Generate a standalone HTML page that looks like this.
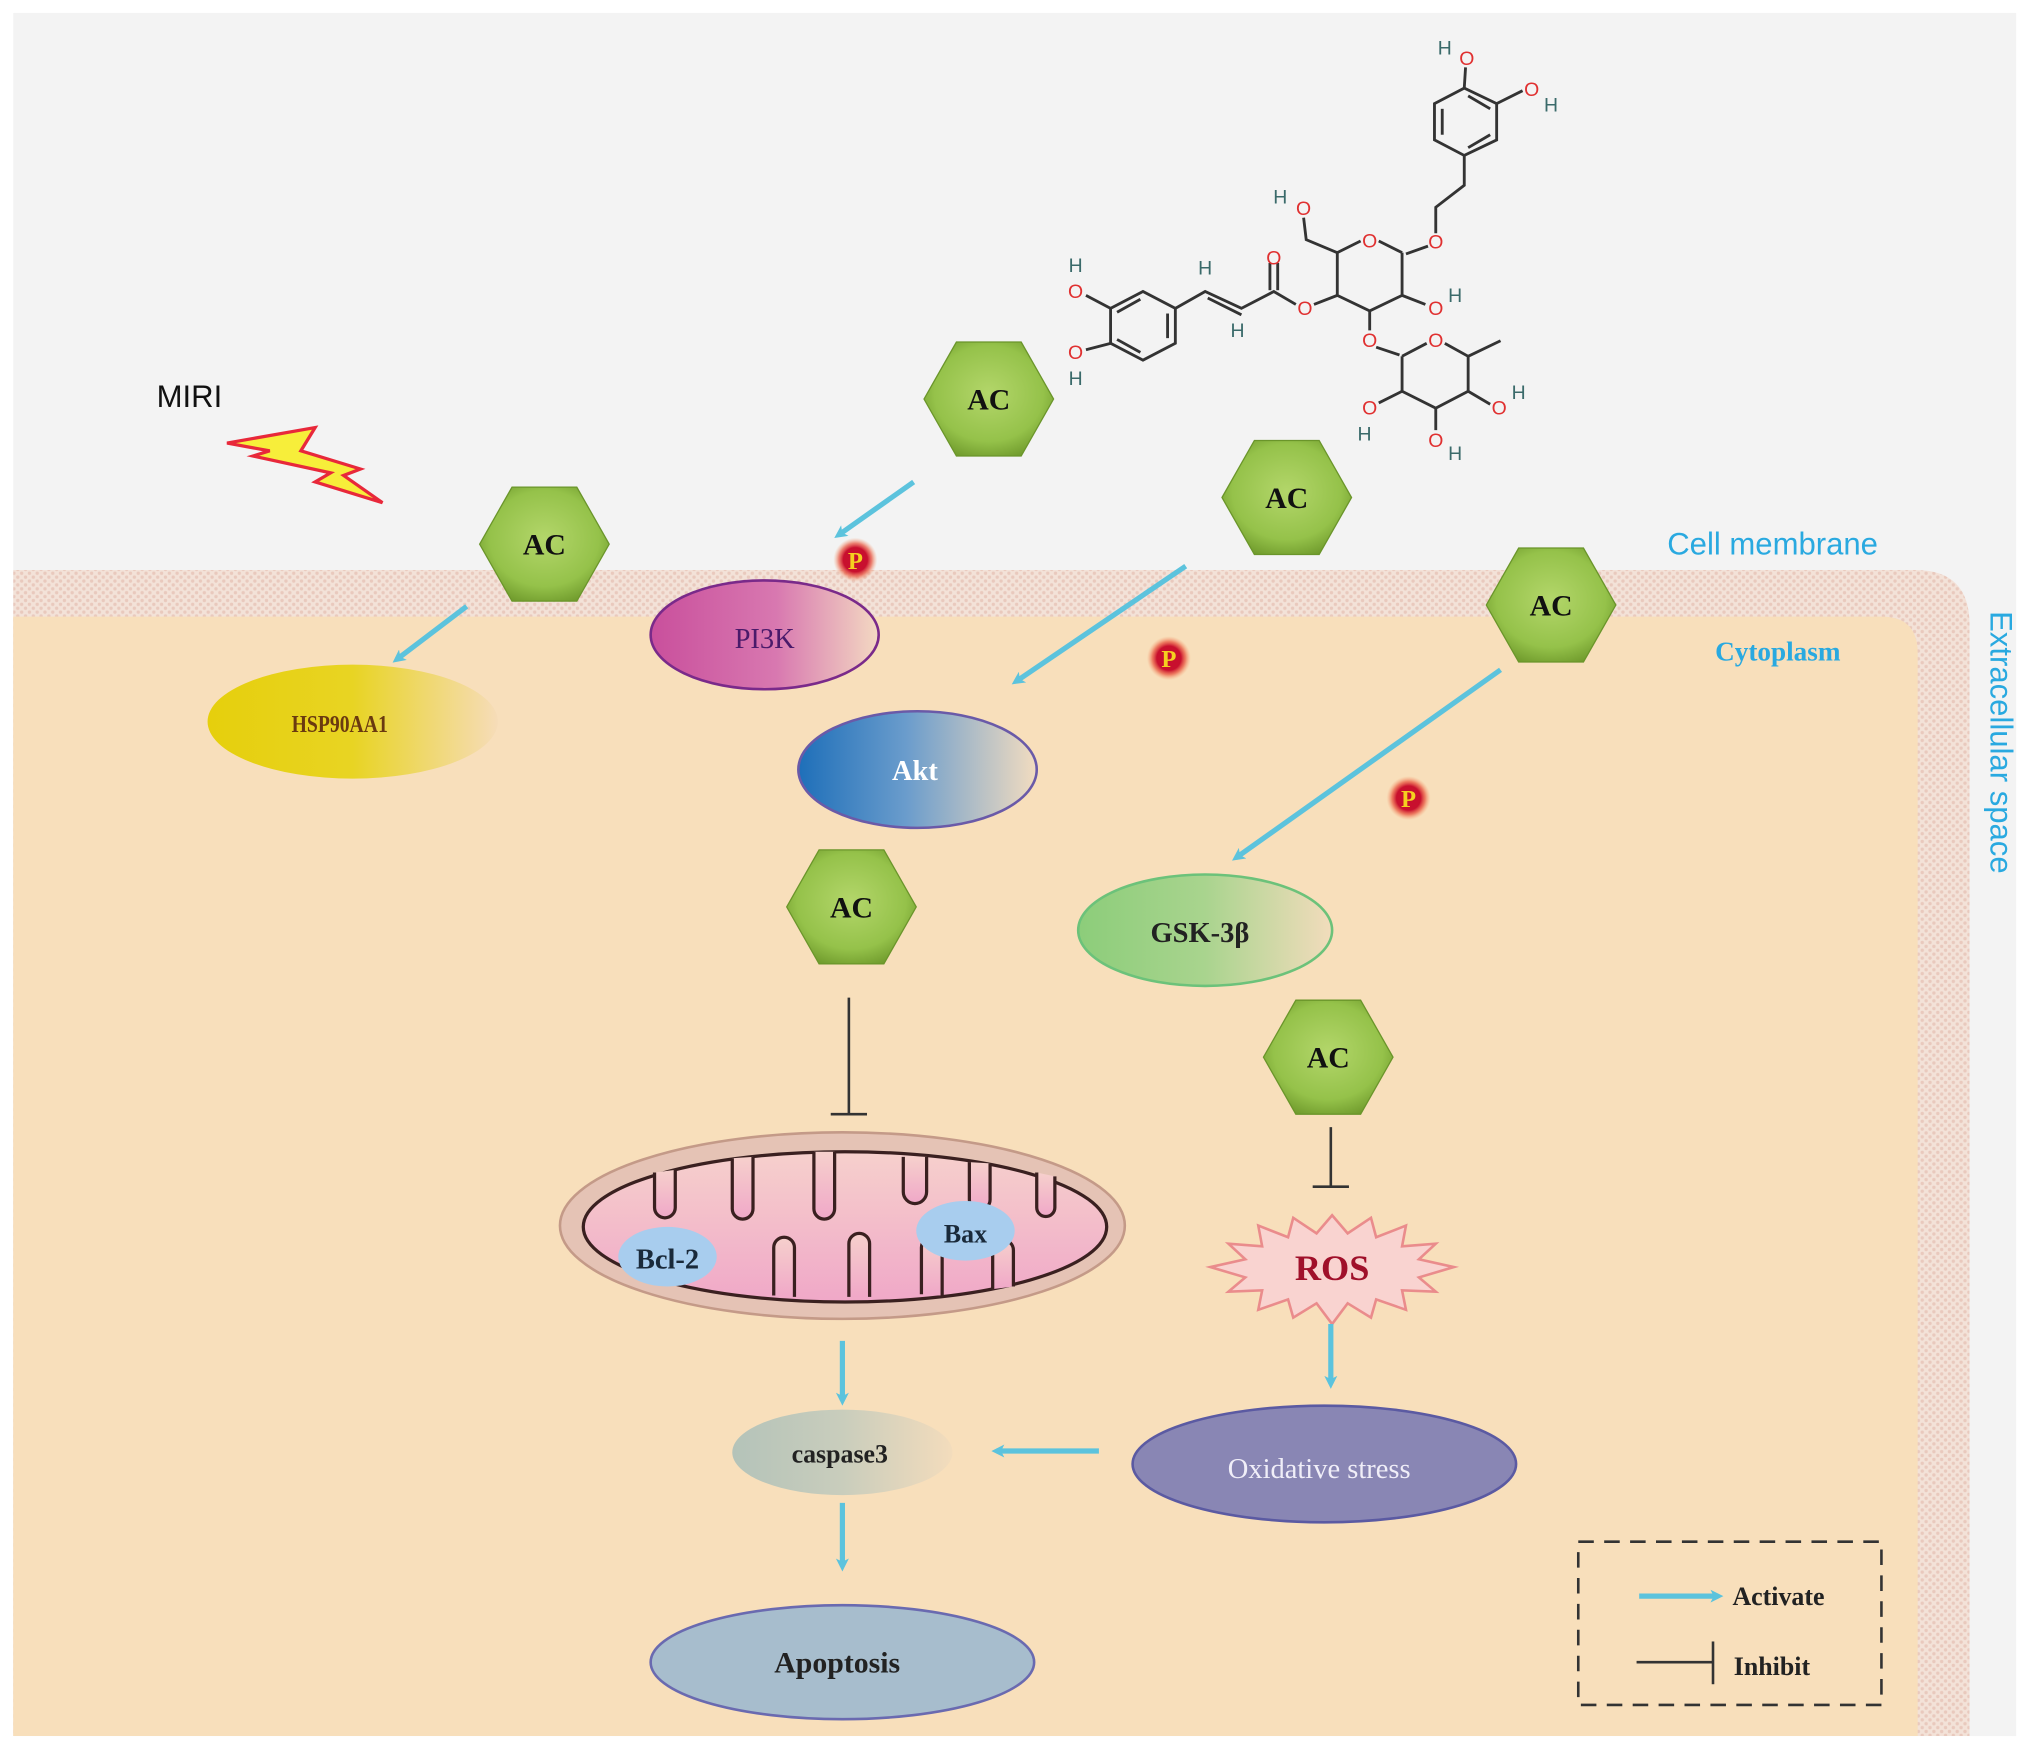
<!DOCTYPE html>
<html><head><meta charset="utf-8"><style>
html,body{margin:0;padding:0;background:#fff;}
svg{display:block;}
</style></head><body>
<svg width="2032" height="1749" viewBox="0 0 1568 1350" xmlns="http://www.w3.org/2000/svg">
<defs>
<pattern id="dots" width="6" height="6" patternUnits="userSpaceOnUse">
<rect width="6" height="6" fill="#f3e2d8"/>
<circle cx="1.5" cy="1.5" r="1.3" fill="#e9c9bd"/>
<circle cx="4.5" cy="4.5" r="1.3" fill="#e9c9bd"/>
</pattern>
<radialGradient id="hex" cx="50%" cy="45%" r="60%">
<stop offset="0" stop-color="#b3d66a"/><stop offset="0.7" stop-color="#95c24a"/><stop offset="1" stop-color="#6f9a2c"/>
</radialGradient>
<linearGradient id="gPI3K" x1="0" x2="1"><stop offset="0" stop-color="#c94f9c"/><stop offset="0.55" stop-color="#d878b0"/><stop offset="1" stop-color="#f3d9c2"/></linearGradient>
<linearGradient id="gHSP" x1="0" x2="1"><stop offset="0" stop-color="#e6cf0c"/><stop offset="0.5" stop-color="#e8d423"/><stop offset="1" stop-color="#f6dcb8"/></linearGradient>
<linearGradient id="gAkt" x1="0" x2="1"><stop offset="0" stop-color="#1e6fb9"/><stop offset="0.45" stop-color="#6a9ccc"/><stop offset="1" stop-color="#f2dcc0"/></linearGradient>
<linearGradient id="gGSK" x1="0" x2="1"><stop offset="0" stop-color="#8ccd7a"/><stop offset="0.5" stop-color="#a9d48e"/><stop offset="1" stop-color="#f2dcbc"/></linearGradient>
<linearGradient id="gCasp" x1="0" x2="1"><stop offset="0" stop-color="#b4c3b9"/><stop offset="0.5" stop-color="#c9cdbc"/><stop offset="1" stop-color="#f3dcbc"/></linearGradient>
<linearGradient id="gMito" x1="0" y1="0" x2="0" y2="1"><stop offset="0" stop-color="#f6d0cc"/><stop offset="1" stop-color="#f0a8c8"/></linearGradient>
<radialGradient id="gP" cx="50%" cy="50%" r="50%"><stop offset="0.55" stop-color="#c8102e"/><stop offset="0.75" stop-color="#e8503a" stop-opacity="0.7"/><stop offset="1" stop-color="#f6a070" stop-opacity="0"/></radialGradient>
<marker id="ar" markerWidth="10" markerHeight="10" refX="6" refY="5" orient="auto" markerUnits="userSpaceOnUse" viewBox="0 0 10 10">
<path d="M0,0 L10,5 L0,10 L2.5,5 Z" fill="#5cc3dd"/></marker>
<g id="hx"><polygon points="-50,0 -25,-44 25,-44 50,0 25,44 -25,44" fill="url(#hex)" stroke="#6a952a" stroke-width="1"/></g>
<g id="pc"><circle r="17" fill="url(#gP)"/><text y="7" text-anchor="middle" font-family="Liberation Serif, serif" font-size="19" fill="#f5d020" font-weight="bold">P</text></g>
</defs>

<rect x="10" y="10" width="1546" height="1330" fill="#f3f3f3"/>
<!-- membrane -->
<path d="M10,440 L1478,440 Q1520,440 1520,482 L1520,1340 L10,1340 Z" fill="url(#dots)"/>
<path d="M10,476 L1452,476 Q1480,476 1480,504 L1480,1340 L10,1340 Z" fill="#f8dfbb"/>

<!-- labels -->
<text x="146" y="314" font-family="Liberation Sans, sans-serif" font-size="24" text-anchor="middle" fill="#111">MIRI</text>
<polygon points="175,342 243,330 232,348 278,362 265,367 295,388 243,372 255,365 195,352 208,348" fill="#f7ee3a" stroke="#e8283a" stroke-width="2.5" stroke-linejoin="miter"/>
<text x="1368" y="428" font-family="Liberation Sans, sans-serif" font-size="24" text-anchor="middle" fill="#29a9e0">Cell membrane</text>
<text x="1372" y="510" font-family="Liberation Serif, serif" font-size="21" font-weight="bold" text-anchor="middle" fill="#29a9e0">Cytoplasm</text>
<text transform="translate(1536,573) rotate(90)" font-family="Liberation Sans, sans-serif" font-size="24" text-anchor="middle" fill="#29a9e0">Extracellular space</text>

<!-- molecule -->
<g stroke="#333" stroke-width="2.2" fill="none">
<polygon points="1107,80 1130,68 1155,80 1155,108 1130,120 1107,108"/>
<line x1="1113" y1="84" x2="1113" y2="104"/><line x1="1133" y1="74" x2="1150" y2="84"/><line x1="1133" y1="114" x2="1150" y2="104"/>
<line x1="1130" y1="68" x2="1131" y2="52"/><line x1="1155" y1="80" x2="1175" y2="70"/>
<polyline points="1130,120 1130,143 1108,160 1108,180"/>
<line x1="1102" y1="190" x2="1085" y2="196"/>
<polyline points="1082,195 1064,186"/><polyline points="1050,186 1032,195 1032,228 1057,240 1082,228 1082,195"/>
<polyline points="1032,195 1008,185 1006,168"/>
<line x1="1082" y1="228" x2="1100" y2="235"/>
<line x1="1032" y1="228" x2="1014" y2="235"/>
<polyline points="1000,235 983,225 958,238 930,225 907,238"/>
<line x1="980" y1="224" x2="980" y2="203"/><line x1="986" y1="224" x2="986" y2="203"/>
<line x1="958" y1="243" x2="932" y2="230"/>
<polygon points="907,238 907,265 882,278 857,265 857,238 882,225"/>
<line x1="901" y1="242" x2="901" y2="261"/><line x1="880" y1="231" x2="862" y2="241"/><line x1="880" y1="272" x2="862" y2="262"/>
<line x1="857" y1="238" x2="838" y2="228"/><line x1="857" y1="265" x2="838" y2="270"/>
<line x1="1057" y1="240" x2="1057" y2="255"/><line x1="1062" y1="268" x2="1080" y2="274"/>
<polyline points="1082,275 1101,265"/><polyline points="1115,265 1133,275 1133,302 1108,315 1082,302 1082,275"/>
<line x1="1133" y1="275" x2="1158" y2="263"/>
<line x1="1133" y1="302" x2="1150" y2="312"/><line x1="1108" y1="315" x2="1108" y2="332"/><line x1="1082" y1="302" x2="1064" y2="311"/>
</g>
<g font-family="Liberation Sans, sans-serif" font-size="15" text-anchor="middle">
<g fill="#e03030"><text x="1132" y="50">O</text><text x="1182" y="74">O</text><text x="1108" y="192">O</text><text x="1057" y="191">O</text><text x="1006" y="166">O</text><text x="1108" y="243">O</text><text x="1007" y="243">O</text><text x="983" y="204">O</text><text x="830" y="230">O</text><text x="830" y="277">O</text><text x="1057" y="268">O</text><text x="1108" y="268">O</text><text x="1157" y="320">O</text><text x="1108" y="345">O</text><text x="1057" y="320">O</text></g>
<g fill="#3a6a6a"><text x="1115" y="42">H</text><text x="1197" y="86">H</text><text x="988" y="157">H</text><text x="1123" y="233">H</text><text x="930" y="212">H</text><text x="955" y="260">H</text><text x="830" y="210">H</text><text x="830" y="297">H</text><text x="1172" y="308">H</text><text x="1123" y="355">H</text><text x="1053" y="340">H</text></g>
</g>

<!-- ellipses -->
<ellipse cx="272" cy="557" rx="112" ry="44" fill="url(#gHSP)"/>
<text x="262" y="565" font-family="Liberation Serif, serif" font-size="19" font-weight="bold" text-anchor="middle" fill="#6a3a10" transform="translate(262,0) scale(0.8,1) translate(-262,0)">HSP90AA1</text>
<ellipse cx="590" cy="490" rx="88" ry="42" fill="url(#gPI3K)" stroke="#7a2a8a" stroke-width="2"/>
<text x="590" y="500" font-family="Liberation Serif, serif" font-size="22" text-anchor="middle" fill="#4a1a6a">PI3K</text>
<ellipse cx="708" cy="594" rx="92" ry="45" fill="url(#gAkt)" stroke="#6a5aa8" stroke-width="2"/>
<text x="706" y="602" font-family="Liberation Serif, serif" font-size="22" font-weight="bold" text-anchor="middle" fill="#fff">Akt</text>
<ellipse cx="930" cy="718" rx="98" ry="43" fill="url(#gGSK)" stroke="#6cc27a" stroke-width="2"/>
<text x="926" y="727" font-family="Liberation Serif, serif" font-size="22" font-weight="bold" text-anchor="middle" fill="#222">GSK-3β</text>

<!-- mito -->
<ellipse cx="650" cy="946" rx="218" ry="72" fill="#e5c3b5" stroke="#c49a88" stroke-width="2"/>
<ellipse cx="652" cy="947" rx="202" ry="58" fill="url(#gMito)" stroke="#3a2020" stroke-width="2.5"/>
<g fill="url(#gMito)" stroke="#3a2020" stroke-width="2.5">
<path d="M505,905 L505,932 A8,8 0 0 0 521,932 L521,903"/>
<path d="M565,894 L565,933 A8,8 0 0 0 581,933 L581,893"/>
<path d="M628,889 L628,933 A8,8 0 0 0 644,933 L644,889"/>
<path d="M697,893 L697,920 A9,9 0 0 0 715,920 L715,893"/>
<path d="M748,897 L748,926 A8,8 0 0 0 764,926 L764,898"/>
<path d="M800,905 L800,932 A7,7 0 0 0 814,932 L814,908"/>
<path d="M597,1000 L597,963 A8,8 0 0 1 613,963 L613,1001"/>
<path d="M655,1001 L655,960 A8,8 0 0 1 671,960 L671,1001"/>
<path d="M711,999 L711,963 A8,8 0 0 1 727,963 L727,1000"/>
<path d="M766,995 L766,965 A8,8 0 0 1 782,965 L782,993"/>
</g>
<ellipse cx="652" cy="947" rx="196" ry="53" fill="none" stroke="none"/>
<ellipse cx="515" cy="970" rx="38" ry="23" fill="#a8cdee"/>
<text x="515" y="979" font-family="Liberation Serif, serif" font-size="22" font-weight="bold" text-anchor="middle" fill="#1a2a3a">Bcl-2</text>
<ellipse cx="745" cy="950" rx="38" ry="23" fill="#a8cdee"/>
<text x="745" y="959" font-family="Liberation Serif, serif" font-size="20" font-weight="bold" text-anchor="middle" fill="#1a2a3a">Bax</text>

<!-- ROS -->
<polygon points="1028,938 1040,952 1058,940 1062,955 1085,946 1082,962 1108,960 1095,972 1122,978 1095,986 1108,997 1082,996 1085,1011 1062,1003 1058,1017 1040,1006 1028,1022 1016,1006 998,1017 994,1003 971,1011 974,996 948,997 961,986 934,978 961,972 948,960 974,962 971,946 994,955 998,940 1016,952" fill="#f9d3d0" stroke="#ea8c8c" stroke-width="2"/>
<text x="1028" y="988" font-family="Liberation Serif, serif" font-size="28" font-weight="bold" text-anchor="middle" fill="#a0102a">ROS</text>

<ellipse cx="1022" cy="1130" rx="148" ry="45" fill="#8986b4" stroke="#5b5aa2" stroke-width="2"/>
<text x="1018" y="1141" font-family="Liberation Serif, serif" font-size="22" text-anchor="middle" fill="#f0eef8">Oxidative stress</text>
<ellipse cx="650" cy="1121" rx="85" ry="33" fill="url(#gCasp)"/>
<text x="648" y="1129" font-family="Liberation Serif, serif" font-size="20" font-weight="bold" text-anchor="middle" fill="#222">caspase3</text>
<ellipse cx="650" cy="1283" rx="148" ry="44" fill="#a7bdcd" stroke="#6a6ab0" stroke-width="2"/>
<text x="646" y="1291" font-family="Liberation Serif, serif" font-size="23" font-weight="bold" text-anchor="middle" fill="#222">Apoptosis</text>

<!-- arrows -->
<g stroke="#5cc3dd" stroke-width="4" marker-end="url(#ar)" fill="none">
<line x1="360" y1="468" x2="306" y2="509"/>
<line x1="705" y1="372" x2="647" y2="413"/>
<line x1="915" y1="437" x2="784" y2="526"/>
<line x1="1158" y1="517" x2="954" y2="662"/>
<line x1="650" y1="1035" x2="650" y2="1081"/>
<line x1="1027" y1="1022" x2="1027" y2="1068"/>
<line x1="848" y1="1120" x2="769" y2="1120"/>
<line x1="650" y1="1160" x2="650" y2="1209"/>
<line x1="1265" y1="1232" x2="1326" y2="1232"/>
</g>

<!-- inhibit -->
<g stroke="#333" stroke-width="2">
<line x1="655" y1="770" x2="655" y2="860"/><line x1="641" y1="860" x2="669" y2="860"/>
<line x1="1027" y1="870" x2="1027" y2="916"/><line x1="1013" y1="916" x2="1041" y2="916"/>
<line x1="1263" y1="1283" x2="1322" y2="1283"/><line x1="1322" y1="1267" x2="1322" y2="1300"/>
</g>

<!-- hexagons -->
<g font-family="Liberation Serif, serif" font-size="23" font-weight="bold" text-anchor="middle" fill="#111">
<g transform="translate(420,420)"><use href="#hx"/><text y="8">AC</text></g>
<g transform="translate(763,308)"><use href="#hx"/><text y="8">AC</text></g>
<g transform="translate(993,384)"><use href="#hx"/><text y="8">AC</text></g>
<g transform="translate(1197,467)"><use href="#hx"/><text y="8">AC</text></g>
<g transform="translate(657,700)"><use href="#hx"/><text y="8">AC</text></g>
<g transform="translate(1025,816)"><use href="#hx"/><text y="8">AC</text></g>
</g>

<use href="#pc" transform="translate(660,432)"/>
<use href="#pc" transform="translate(902,508)"/>
<use href="#pc" transform="translate(1087,616)"/>

<!-- legend -->
<rect x="1218" y="1190" width="234" height="126" fill="none" stroke="#333" stroke-width="2" stroke-dasharray="12,8"/>
<text x="1337" y="1239" font-family="Liberation Serif, serif" font-size="20" font-weight="bold" fill="#222">Activate</text>
<text x="1338" y="1293" font-family="Liberation Serif, serif" font-size="20" font-weight="bold" fill="#222">Inhibit</text>
</svg>
</body></html>
